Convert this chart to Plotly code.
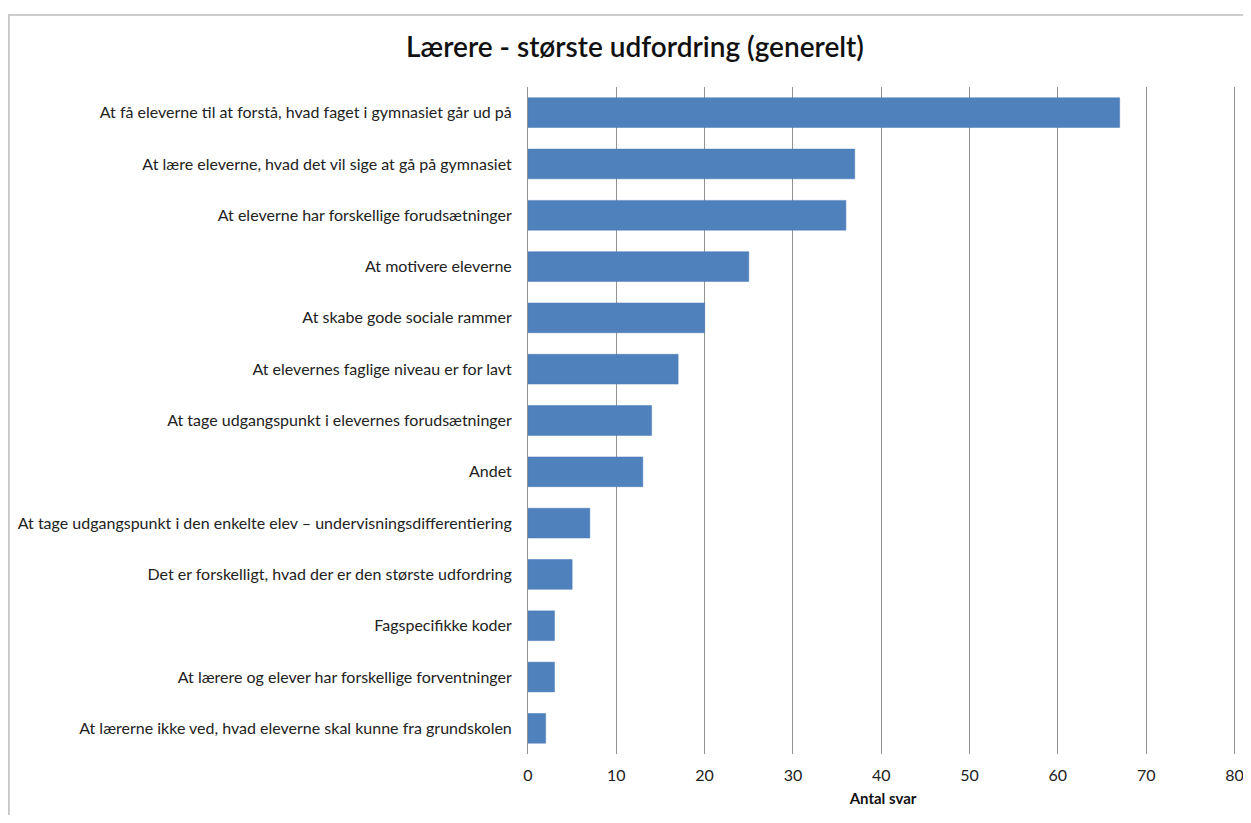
import plotly.graph_objects as go

categories = [
    "At få eleverne til at forstå, hvad faget i gymnasiet går ud på",
    "At lære eleverne, hvad det vil sige at gå på gymnasiet",
    "At eleverne har forskellige forudsætninger",
    "At motivere eleverne",
    "At skabe gode sociale rammer",
    "At elevernes faglige niveau er for lavt",
    "At tage udgangspunkt i elevernes forudsætninger",
    "Andet",
    "At tage udgangspunkt i den enkelte elev – undervisningsdifferentiering",
    "Det er forskelligt, hvad der er den største udfordring",
    "Fagspecifikke koder",
    "At lærere og elever har forskellige forventninger",
    "At lærerne ikke ved, hvad eleverne skal kunne fra grundskolen",
]
values = [67, 37, 36, 25, 20, 17, 14, 13, 7, 5, 3, 3, 2]
x_ticks = [0, 10, 20, 30, 40, 50, 60, 70, 80]

FONT = "Lato, 'Open Sans', sans-serif"

W, H = 1243, 807
L, R, T, B = 520, 12.5, 79, 61
PW = W - L - R
PH = H - T - B

fig = go.Figure(go.Bar(
    x=values,
    y=categories,
    orientation="h",
    marker=dict(color="#4F81BD", line=dict(color="#4A7AB5", width=0.5)),
))

fig.update_layout(
    width=W, height=H,
    margin=dict(l=L, r=R, t=T, b=B, autoexpand=False),
    paper_bgcolor="white", plot_bgcolor="white",
    bargap=0.42,
    showlegend=False,
    title=dict(
        text="Lærere - største udfordring (generelt)",
        x=627/W, xref="container", xanchor="center",
        y=1-39/H, yref="container", yanchor="middle",
        font=dict(family=FONT, size=28, color="#111111", weight=600),
    ),
    font=dict(family=FONT, size=16, color="#222222"),
)

fig.update_xaxes(
    range=[0, 80.4], tickvals=x_ticks, showgrid=True, gridcolor="#939393", gridwidth=1,
    zeroline=False, showline=False, ticks="", ticklabelstandoff=10, automargin=False,
    tickfont=dict(family=FONT, size=16, color="#222222"),
    title=dict(text="<b>Antal svar</b>", font=dict(family=FONT, size=15, color="#111111"), standoff=10),
    fixedrange=True,
)
fig.update_yaxes(
    autorange="reversed", showline=True, linecolor="#939393", linewidth=1, automargin=False,
    ticks="", ticklabelstandoff=12, showgrid=False,
    tickfont=dict(family=FONT, size=16, color="#222222"),
)

# outer chart frame (as in the original screenshot)
fig.add_shape(
    type="rect", xref="paper", yref="paper",
    x0=(0.5 - L) / PW, x1=1.2, y0=-0.3, y1=(PH + T - 7) / PH,
    line=dict(color="#bdbdbd", width=1.5), layer="below",
)

fig.write_html("out.html")
